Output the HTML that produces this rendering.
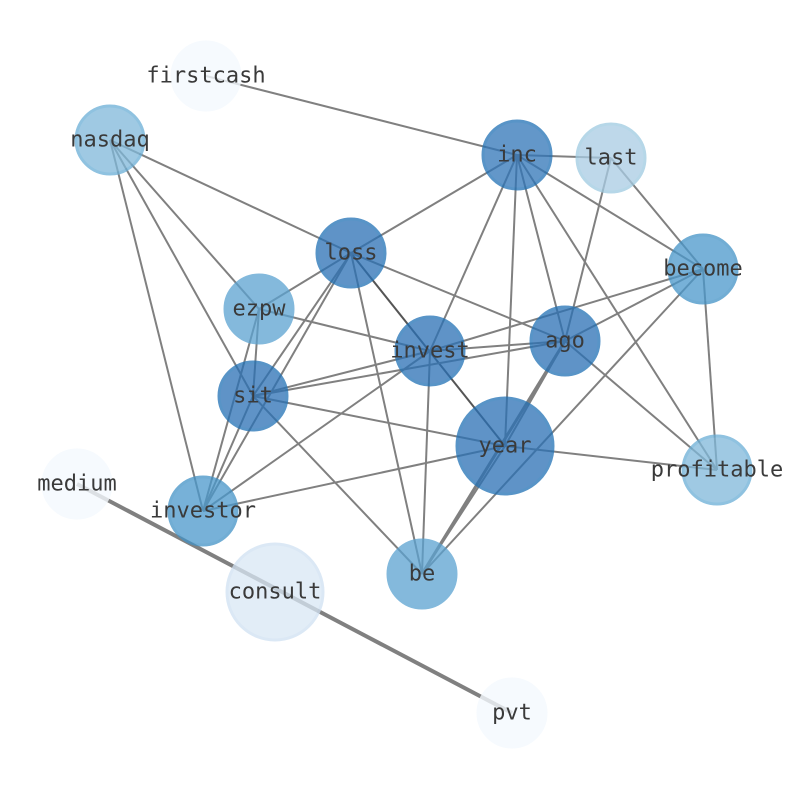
<!DOCTYPE html>
<html><head><meta charset="utf-8"><style>html,body{margin:0;padding:0;background:#fff}</style></head>
<body>
<svg width="794" height="790" xmlns="http://www.w3.org/2000/svg">
<g stroke="#808080" stroke-width="2" fill="none">
<line x1="206" y1="76" x2="517" y2="155"/>
<line x1="110" y1="140" x2="351" y2="253"/>
<line x1="110" y1="140" x2="259" y2="309"/>
<line x1="110" y1="140" x2="253" y2="396"/>
<line x1="110" y1="140" x2="203" y2="511"/>
<line x1="517" y1="155" x2="611" y2="158"/>
<line x1="517" y1="155" x2="351" y2="253"/>
<line x1="517" y1="155" x2="703" y2="269"/>
<line x1="517" y1="155" x2="430" y2="351"/>
<line x1="517" y1="155" x2="505" y2="446"/>
<line x1="517" y1="155" x2="565" y2="341"/>
<line x1="517" y1="155" x2="717" y2="470"/>
<line x1="611" y1="158" x2="565" y2="341"/>
<line x1="611" y1="158" x2="703" y2="269"/>
<line x1="351" y1="253" x2="259" y2="309"/>
<line x1="351" y1="253" x2="253" y2="396"/>
<line x1="351" y1="253" x2="203" y2="511"/>
<line x1="351" y1="253" x2="505" y2="446" stroke="#555"/>
<line x1="351" y1="253" x2="422" y2="574"/>
<line x1="351" y1="253" x2="565" y2="341"/>
<line x1="259" y1="309" x2="430" y2="351"/>
<line x1="259" y1="309" x2="253" y2="396"/>
<line x1="259" y1="309" x2="203" y2="511"/>
<line x1="430" y1="351" x2="703" y2="269"/>
<line x1="430" y1="351" x2="565" y2="341"/>
<line x1="430" y1="351" x2="253" y2="396"/>
<line x1="430" y1="351" x2="203" y2="511"/>
<line x1="430" y1="351" x2="422" y2="574"/>
<line x1="253" y1="396" x2="565" y2="341"/>
<line x1="253" y1="396" x2="505" y2="446"/>
<line x1="253" y1="396" x2="422" y2="574"/>
<line x1="253" y1="396" x2="203" y2="511"/>
<line x1="565" y1="341" x2="505" y2="446"/>
<line x1="565" y1="341" x2="422" y2="574" stroke-width="3"/>
<line x1="565" y1="341" x2="717" y2="470"/>
<line x1="565" y1="341" x2="703" y2="269"/>
<line x1="505" y1="446" x2="203" y2="511"/>
<line x1="505" y1="446" x2="717" y2="470"/>
<line x1="505" y1="446" x2="422" y2="574"/>
<line x1="703" y1="269" x2="422" y2="574"/>
<line x1="703" y1="269" x2="717" y2="470"/>
<line x1="77" y1="484" x2="512" y2="713" stroke-width="4"/>
</g>
<g stroke-width="3">
<circle cx="206" cy="76" r="34" fill="#f4f9fe" stroke="#f4f9fe" opacity="0.8"/>
<circle cx="110" cy="140" r="34" fill="#7fb8da" stroke="#6aaed6" opacity="0.75"/>
<circle cx="517" cy="155" r="34" fill="#2f75b8" stroke="#2171b5" opacity="0.75"/>
<circle cx="611" cy="158" r="34" fill="#a9cce4" stroke="#9ecae1" opacity="0.75"/>
<circle cx="351" cy="253" r="34" fill="#2a70b5" stroke="#2171b5" opacity="0.75"/>
<circle cx="703" cy="269" r="34" fill="#4a98cc" stroke="#4292c6" opacity="0.75"/>
<circle cx="259" cy="309" r="34" fill="#5ba2d1" stroke="#5aa2d1" opacity="0.75"/>
<circle cx="430" cy="351" r="34" fill="#2a70b5" stroke="#2171b5" opacity="0.75"/>
<circle cx="565" cy="341" r="34" fill="#2a70b5" stroke="#2171b5" opacity="0.75"/>
<circle cx="253" cy="396" r="34" fill="#2a70b5" stroke="#2171b5" opacity="0.75"/>
<circle cx="505" cy="446" r="48" fill="#2a70b5" stroke="#2171b5" opacity="0.75"/>
<circle cx="717" cy="470" r="34" fill="#7fb8da" stroke="#6aaed6" opacity="0.75"/>
<circle cx="77" cy="484" r="34" fill="#f4f9fe" stroke="#f4f9fe" opacity="0.8"/>
<circle cx="203" cy="511" r="34" fill="#4a98cc" stroke="#4292c6" opacity="0.75"/>
<circle cx="422" cy="574" r="34" fill="#5ba2d1" stroke="#5aa2d1" opacity="0.75"/>
<circle cx="275" cy="592" r="48" fill="#d9e7f5" stroke="#d0e1f2" opacity="0.75"/>
<circle cx="512" cy="713" r="34" fill="#f4f9fe" stroke="#f4f9fe" opacity="0.8"/>
</g>
<g font-family="DejaVu Sans Mono, Liberation Mono, monospace" font-size="22" fill="#3a3a3a" text-anchor="middle" dominant-baseline="central">
<text x="206" y="76">firstcash</text>
<text x="110" y="140">nasdaq</text>
<text x="517" y="155">inc</text>
<text x="611" y="158">last</text>
<text x="351" y="253">loss</text>
<text x="703" y="269">become</text>
<text x="259" y="309">ezpw</text>
<text x="430" y="351">invest</text>
<text x="565" y="341">ago</text>
<text x="253" y="396">sit</text>
<text x="505" y="446">year</text>
<text x="717" y="470">profitable</text>
<text x="77" y="484">medium</text>
<text x="203" y="511">investor</text>
<text x="422" y="574">be</text>
<text x="275" y="592">consult</text>
<text x="512" y="713">pvt</text>
</g>
</svg>
</body></html>
